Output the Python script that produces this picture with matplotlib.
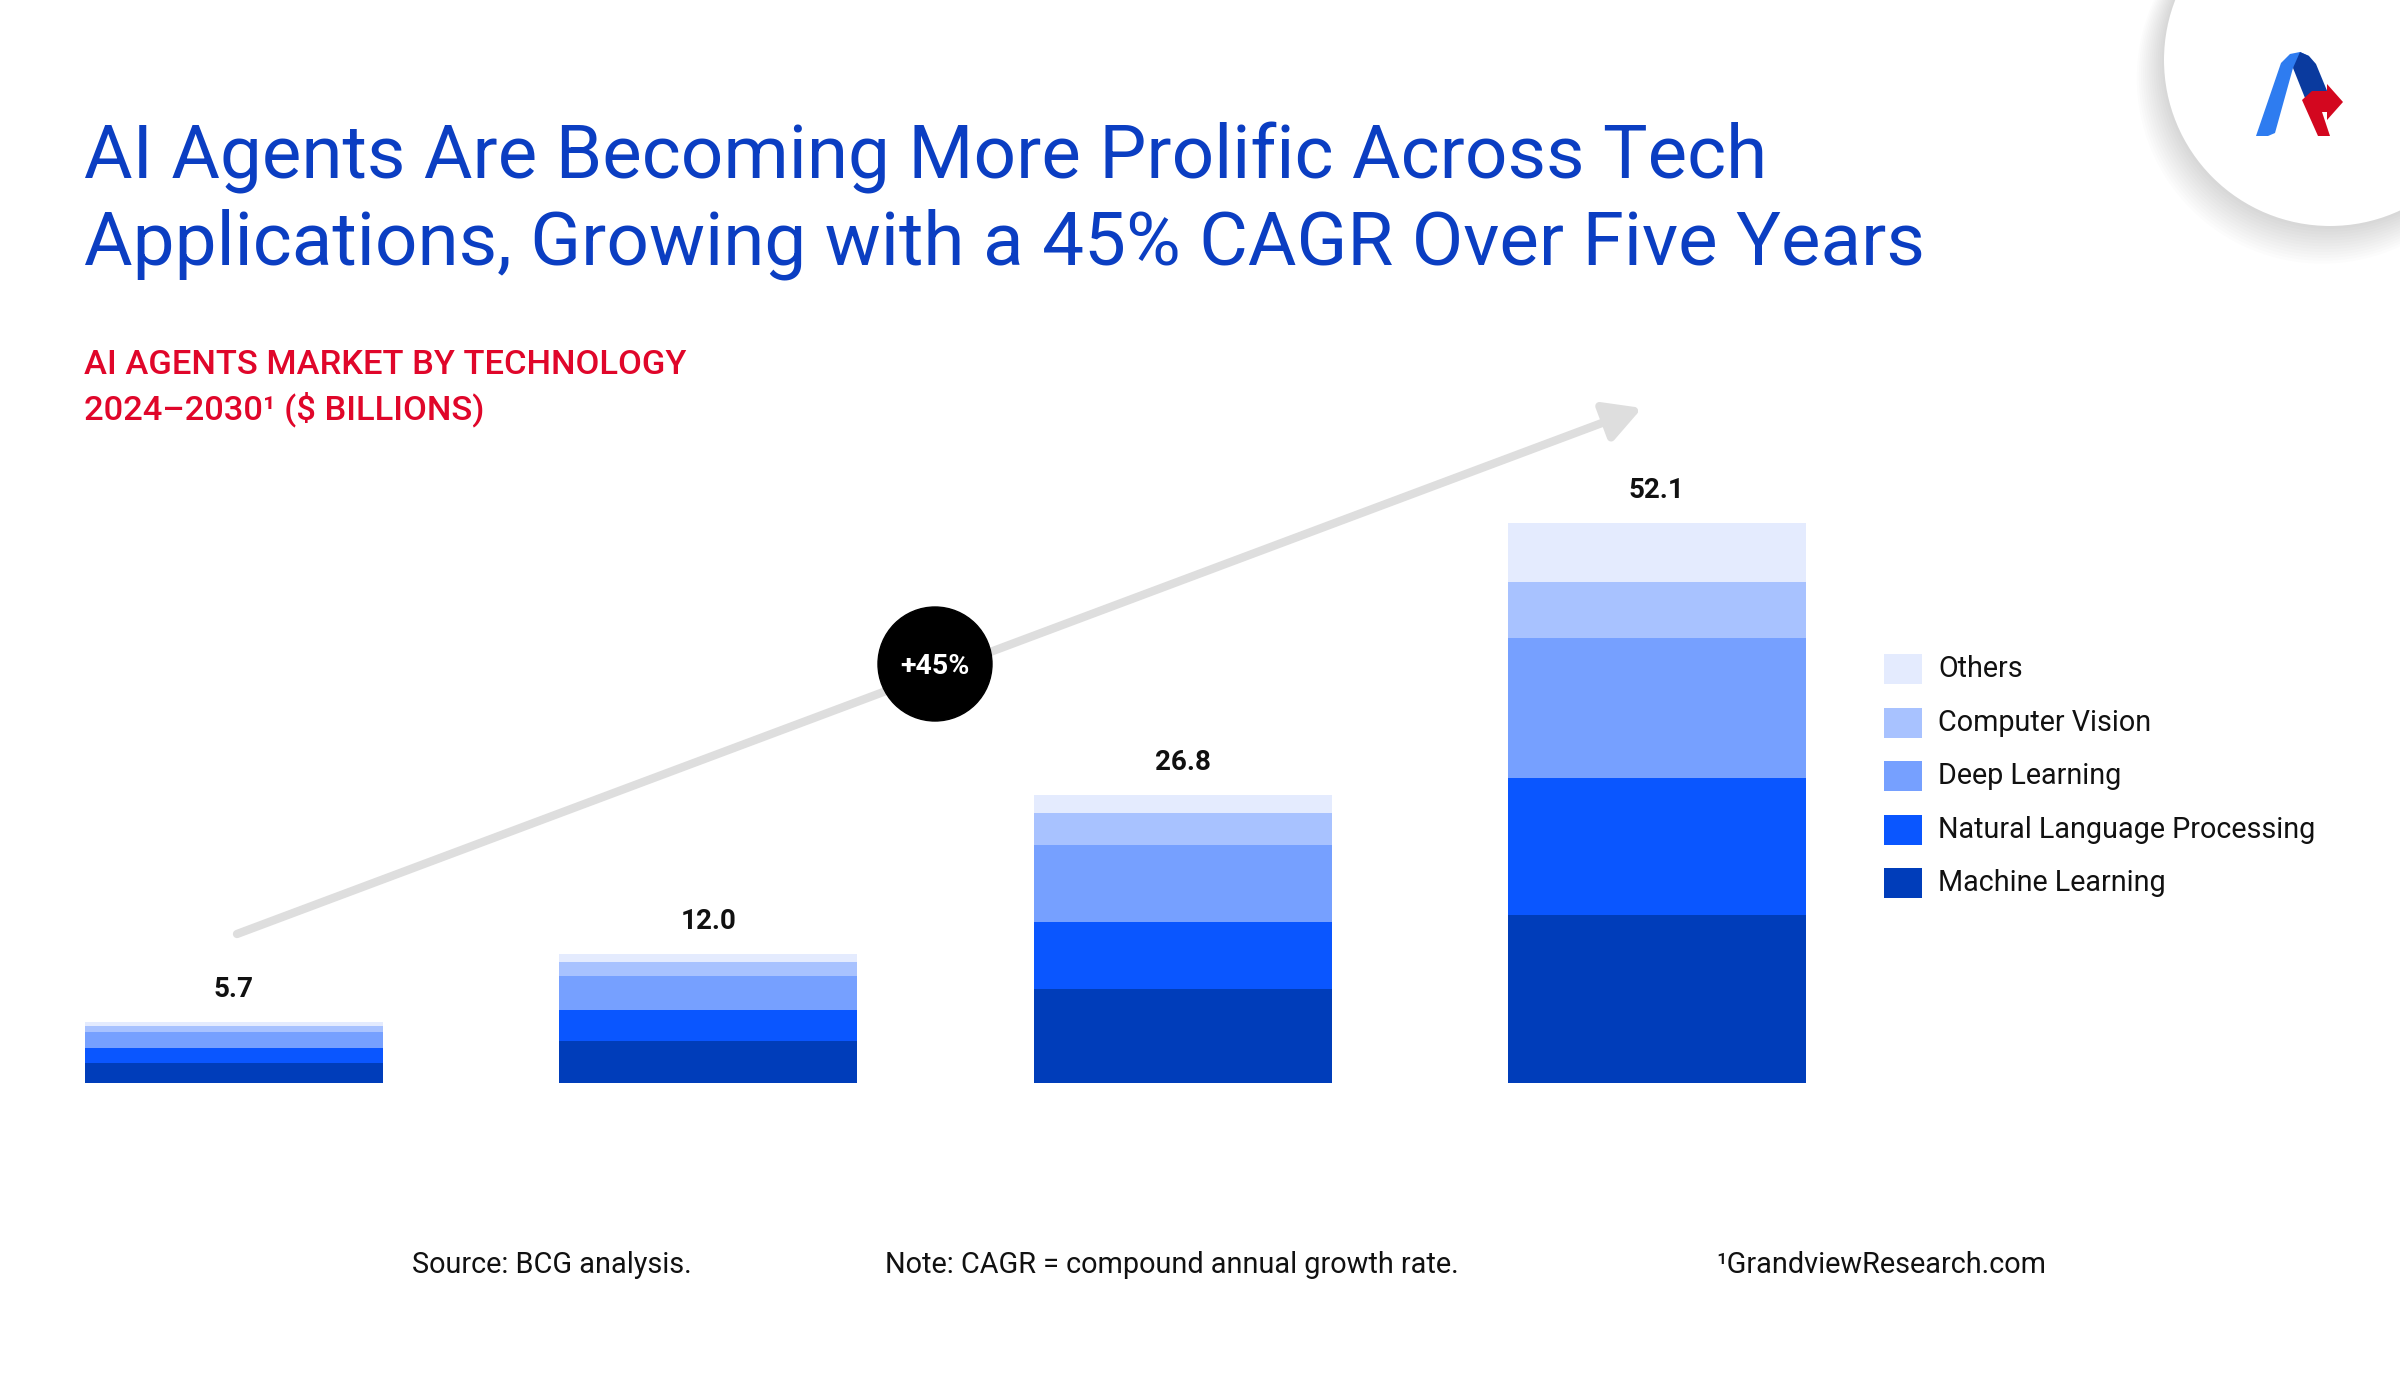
import numpy as np
import matplotlib
matplotlib.use("Agg")
import matplotlib.pyplot as plt
from matplotlib.patches import Circle, Polygon, Rectangle, FancyArrowPatch

plt.rcParams["font.family"] = ["Roboto", "DejaVu Sans"]

# ---------------------------------------------------------------- data
YEARS = ["2024", "2026", "2028", "2030"]
TOTALS = [5.7, 12.0, 26.8, 52.1]
SERIES = ["Machine Learning", "Natural Language Processing", "Deep Learning",
          "Computer Vision", "Others"]
ML = [1.90, 3.94, 8.75, 15.60]
NLP = [1.33, 2.81, 6.21, 12.80]
DL = [1.52, 3.19, 7.15, 12.95]
CV = [0.57, 1.31, 3.01, 5.23]
OTH = [0.38, 0.75, 1.68, 5.52]
COLORS = ["#003DBA", "#0A56FF", "#76A0FF", "#A8C2FF", "#E4EBFE"]
CAGR = "+45%"

TITLE = ("AI Agents Are Becoming More Prolific Across Tech\n"
         "Applications, Growing with a 45% CAGR Over Five Years")
SUB1 = "AI AGENTS MARKET BY TECHNOLOGY"
SUB2 = "2024\u20132030\u00b9 ($ BILLIONS)"
FOOT = ["Source: BCG analysis.", "Note: CAGR = compound annual growth rate.",
        "\u00b9GrandviewResearch.com"]

W, H = 2400, 1388
fig = plt.figure(figsize=(W / 100, H / 100), dpi=100)

# overlay in pixel coords for the decoration
ov = fig.add_axes([0, 0, 1, 1])
ov.set_xlim(0, W)
ov.set_ylim(H, 0)
ov.axis("off")

# ---------------------------------------------------------------- bars
base_px, px_unit, pitch = 1083, 10.75, 474.3
ax = fig.add_axes([(234 - 0.5 * pitch) / W, (H - base_px) / H, 4 * pitch / W,
                   60 * px_unit / H])
ax.set_xlim(-0.5, 3.5)
ax.set_ylim(0, 60)
ax.axis("off")
x = np.arange(len(YEARS))
bottom = np.zeros(len(YEARS))
for vals, name, c in zip([ML, NLP, DL, CV, OTH], SERIES, COLORS):
    ax.bar(x, vals, 0.628, bottom=bottom, color=c, label=name, linewidth=0)
    bottom += np.array(vals)
for xi, t in zip(x, TOTALS):
    ax.annotate(f"{t:.1f}", (xi, t), xytext=(0, 19), textcoords="offset pixels",
                ha="center", va="bottom", fontsize=20, fontweight="bold",
                color="#111111")

# legend, top entry first
for i, (name, c) in enumerate(zip(SERIES[::-1], COLORS[::-1])):
    cy = 669 + i * 53.5
    ov.add_patch(Rectangle((1884, cy - 15), 38, 30, color=c, lw=0))
    ov.text(1938, cy, name, fontsize=20.7, color="#111111", ha="left",
            va="center")

# ---------------------------------------------------------------- arrow + badge
ov.add_patch(FancyArrowPatch((237, 934), (1642, 408),
                             arrowstyle="-|>,head_length=1.1,head_width=0.6",
                             mutation_scale=20, color="#DEDEDE", lw=6,
                             shrinkA=0, shrinkB=0))
ov.add_patch(Circle((935, 664), 57, color="black", zorder=5))
ov.text(935, 666, CAGR, color="white", fontsize=20.5, fontweight="bold",
        ha="center", va="center", zorder=6)

# ---------------------------------------------------------------- titles
ov.text(84, 201, TITLE, fontsize=53.7, color="#0B3EC2", ha="left",
        va="center", linespacing=1.27)
ov.text(84, 388, SUB1 + "\n" + SUB2, fontsize=24.8, color="#E0062A",
        ha="left", va="center", fontweight="medium", linespacing=1.39)

for txt, px in zip(FOOT, [412, 885, 1716]):
    ov.text(px, 1265, txt, fontsize=20.8, color="#111111", ha="left",
            va="center")

# ---------------------------------------------------------------- logo
for i in range(14):
    ov.add_patch(Circle((2330 - i * 0.6, 60 + i * 1.4), 166 + i * 1.5,
                        color="black", alpha=0.012, lw=0, zorder=1))
ov.add_patch(Circle((2330, 60), 166, color="white", lw=0, zorder=2))
ov.add_patch(Polygon([(2256, 136), (2281, 63), (2290, 54), (2300, 52),
                      (2309, 56), (2293, 68), (2275, 133), (2268, 136)],
                     closed=True, color="#2E7CF0", lw=0, zorder=3))
ov.add_patch(Polygon([(2300, 52), (2309, 56), (2316, 64), (2330, 98),
                      (2305, 98), (2293, 68)], closed=True,
                     color="#0A3A9E", lw=0, zorder=3))
ov.add_patch(Polygon([(2302, 100), (2312, 91), (2327, 91), (2327, 84),
                      (2343, 102), (2327, 120), (2327, 112), (2322, 112),
                      (2330, 136), (2318, 136)], closed=True,
                     color="#D3071F", lw=0, zorder=3))

fig.savefig("out.png", dpi=100, facecolor="white")
